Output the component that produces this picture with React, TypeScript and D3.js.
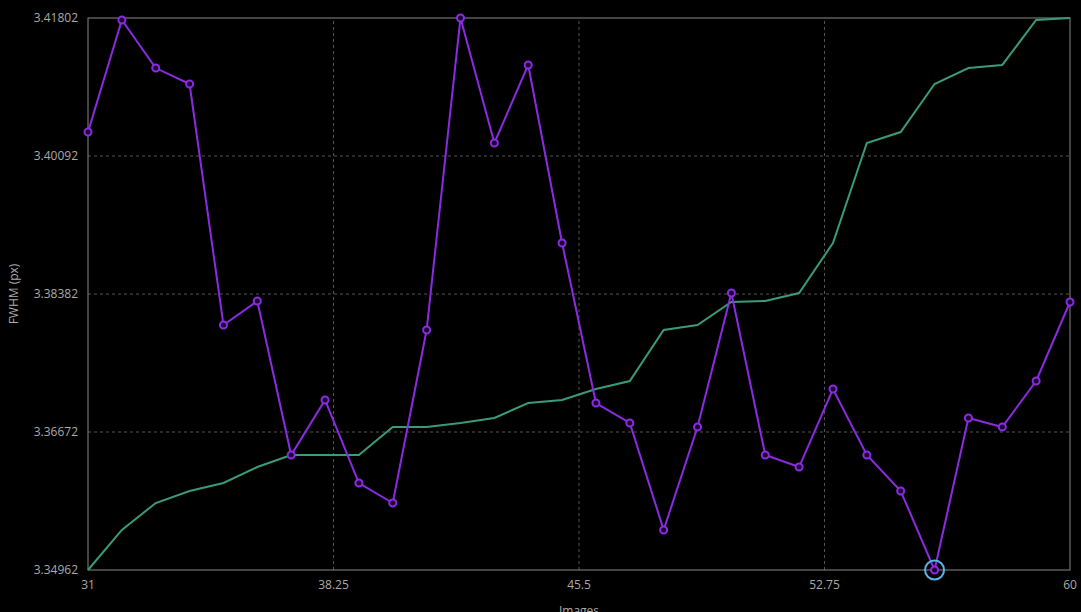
import React from "react";
import * as d3 from "d3";

const images: number[] = d3.range(31, 61);
const fwhm: number[] = [
  3.40389, 3.41777, 3.41182, 3.40984, 3.37998, 3.38295, 3.36387, 3.37069, 3.3604, 3.35792,
  3.37936, 3.41802, 3.40253, 3.4122, 3.39014, 3.37031, 3.36784, 3.35458, 3.36734, 3.38394,
  3.36387, 3.36238, 3.37205, 3.36387, 3.35941, 3.34962, 3.36846, 3.36734, 3.37304, 3.38283,
];
const fwhmSorted: number[] = [
  3.34962, 3.35458, 3.35792, 3.35941, 3.3604, 3.36238, 3.36387, 3.36387, 3.36387, 3.36734,
  3.36734, 3.36784, 3.36846, 3.37031, 3.37069, 3.37205, 3.37304, 3.37936, 3.37998, 3.38283,
  3.38295, 3.38394, 3.39014, 3.40253, 3.40389, 3.40984, 3.41182, 3.4122, 3.41777, 3.41802,
];
const xTicks: number[] = [31, 38.25, 45.5, 52.75, 60];
const yTicks: number[] = [3.34962, 3.36672, 3.38382, 3.40092, 3.41802];
const highlightIndex = 25;

const W = 1081;
const H = 612;
const m = { left: 88, right: 11, top: 18, bottom: 42 };

export default function App() {
  const x = d3.scaleLinear().domain([31, 60]).range([m.left, W - m.right]);
  const y = d3.scaleLinear().domain([3.34962, 3.41802]).range([H - m.bottom, m.top]);
  const line = d3.line<number>().x((_, i) => x(images[i])).y((d) => y(d));
  const font = "'Open Sans', 'DejaVu Sans', sans-serif";
  const x0 = m.left, x1 = W - m.right, y0 = H - m.bottom, y1 = m.top;
  return (
    <svg width={W} height={H} style={{ position: "absolute", left: 0, top: 0, background: "#000" }}>
      <rect x={0} y={0} width={W} height={H} fill="#000" />
      {xTicks.slice(1, -1).map((t) => (
        <line key={"gx" + t} x1={x(t)} x2={x(t)} y1={y0} y2={y1} stroke="#555" strokeDasharray="3,3" strokeWidth={1} />
      ))}
      {yTicks.slice(1, -1).map((t) => (
        <line key={"gy" + t} x1={x0} x2={x1} y1={y(t)} y2={y(t)} stroke="#555" strokeDasharray="3,3" strokeWidth={1} />
      ))}
      <rect x={x0} y={y1} width={x1 - x0} height={y0 - y1} fill="none" stroke="#888" strokeWidth={1} />
      {yTicks.map((t) => (
        <text key={"ty" + t} x={x0 - 10} y={y(t)} dy="0.35em" textAnchor="end" fill="#aaa" fontSize={12} fontFamily={font}>
          {t.toFixed(5)}
        </text>
      ))}
      {xTicks.map((t) => (
        <text key={"tx" + t} x={x(t)} y={y0 + 19} textAnchor="middle" fill="#aaa" fontSize={12} fontFamily={font}>
          {String(t)}
        </text>
      ))}
      <text x={x(45.5)} y={y0 + 45} textAnchor="middle" fill="#aaa" fontSize={12} fontFamily={font}>Images</text>
      <text transform={`translate(18,${(y0 + y1) / 2}) rotate(-90)`} textAnchor="middle" fill="#aaa" fontSize={12} fontFamily={font}>
        FWHM (px)
      </text>
      <path d={line(fwhmSorted) || ""} fill="none" stroke="#3a9a7a" strokeWidth={2} />
      <path d={line(fwhm) || ""} fill="none" stroke="#8a2be2" strokeWidth={2} />
      {fwhm.map((v, i) => (
        <circle key={"p" + i} cx={x(images[i])} cy={y(v)} r={3.5} fill="#1a0030" stroke="#8a2be2" strokeWidth={2} />
      ))}
      <circle cx={x(images[highlightIndex])} cy={y(fwhm[highlightIndex])} r={9.5} fill="none" stroke="#5ab4e6" strokeWidth={2} />
    </svg>
  );
}
